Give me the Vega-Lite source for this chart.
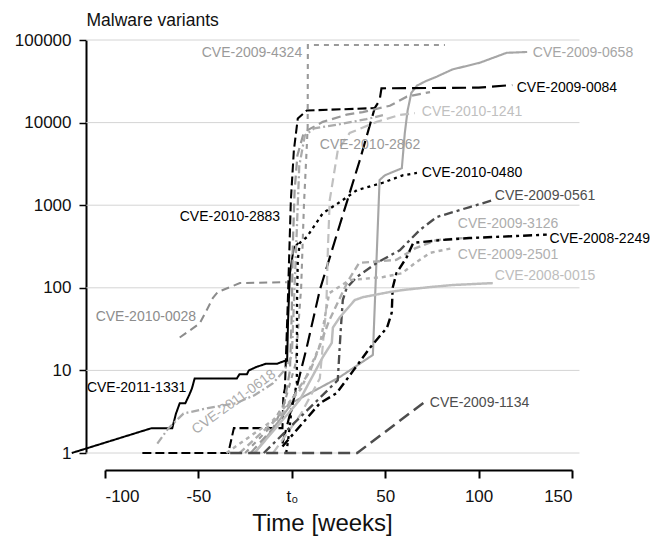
{
"$schema": "https://vega.github.io/schema/vega-lite/v6.json",
"width": 467, "height": 413,
"autosize": {"type": "none"},
"padding": {"left": 105, "top": 40, "right": 83, "bottom": 89},
"config": {"view": {"stroke": null}, "font": "Liberation Sans"},
"datasets": {
"grid": [{"g":1},{"g":10},{"g":100},{"g":1000},{"g":10000},{"g":100000}],
"series": [
{"c":"CVE-2011-1331","w":-117.8,"v":1},{"c":"CVE-2011-1331","w":-75,"v":2},{"c":"CVE-2011-1331","w":-64,"v":2},{"c":"CVE-2011-1331","w":-62,"v":3},{"c":"CVE-2011-1331","w":-60,"v":4},{"c":"CVE-2011-1331","w":-57,"v":4},{"c":"CVE-2011-1331","w":-55,"v":5},{"c":"CVE-2011-1331","w":-53.5,"v":6},{"c":"CVE-2011-1331","w":-52,"v":8},{"c":"CVE-2011-1331","w":-29.4,"v":8},{"c":"CVE-2011-1331","w":-28,"v":9},{"c":"CVE-2011-1331","w":-24,"v":9},{"c":"CVE-2011-1331","w":-23,"v":10},{"c":"CVE-2011-1331","w":-19,"v":11},{"c":"CVE-2011-1331","w":-14,"v":12},{"c":"CVE-2011-1331","w":-8,"v":12},{"c":"CVE-2011-1331","w":-4,"v":13},{"c":"CVE-2011-1331","w":-2.5,"v":13},{"c":"CVE-2011-1331","w":-2,"v":40},{"c":"CVE-2011-1331","w":-1,"v":150},{"c":"CVE-2011-1331","w":1,"v":300},{"c":"CVE-2011-1331","w":3.5,"v":350},
{"c":"CVE-2010-0028","w":-60,"v":25},{"c":"CVE-2010-0028","w":-49.3,"v":37},{"c":"CVE-2010-0028","w":-45.5,"v":54},{"c":"CVE-2010-0028","w":-42.3,"v":75},{"c":"CVE-2010-0028","w":-39.6,"v":89},{"c":"CVE-2010-0028","w":-27.8,"v":114},{"c":"CVE-2010-0028","w":-2.7,"v":117},
{"c":"CVE-2010-2883","w":-80,"v":1},{"c":"CVE-2010-2883","w":-34,"v":1},{"c":"CVE-2010-2883","w":-31,"v":2},{"c":"CVE-2010-2883","w":-12,"v":2},{"c":"CVE-2010-2883","w":-5,"v":2},{"c":"CVE-2010-2883","w":-4.5,"v":5},{"c":"CVE-2010-2883","w":-3.7,"v":6},{"c":"CVE-2010-2883","w":-2.1,"v":71},{"c":"CVE-2010-2883","w":-0.5,"v":1150},{"c":"CVE-2010-2883","w":1.1,"v":4600},{"c":"CVE-2010-2883","w":3.2,"v":11200},{"c":"CVE-2010-2883","w":8,"v":14000},{"c":"CVE-2010-2883","w":45,"v":15000},
{"c":"CVE-2009-4324","w":-25,"v":1},{"c":"CVE-2009-4324","w":-12,"v":2},{"c":"CVE-2009-4324","w":-4,"v":4},{"c":"CVE-2009-4324","w":2,"v":12},{"c":"CVE-2009-4324","w":5,"v":100},{"c":"CVE-2009-4324","w":6.5,"v":1000},{"c":"CVE-2009-4324","w":8,"v":5000},{"c":"CVE-2009-4324","w":8.5,"v":9000},{"c":"CVE-2009-4324","w":8.6,"v":87000},{"c":"CVE-2009-4324","w":82,"v":87000},
{"c":"CVE-2009-0658","w":-19.8,"v":1},{"c":"CVE-2009-0658","w":0.5,"v":4.1},{"c":"CVE-2009-0658","w":25.7,"v":8.3},{"c":"CVE-2009-0658","w":43.4,"v":15.4},{"c":"CVE-2009-0658","w":47,"v":2020},{"c":"CVE-2009-0658","w":49.8,"v":2300},{"c":"CVE-2009-0658","w":58.9,"v":2800},{"c":"CVE-2009-0658","w":60.5,"v":7500},{"c":"CVE-2009-0658","w":62,"v":14000},{"c":"CVE-2009-0658","w":64,"v":23000},{"c":"CVE-2009-0658","w":67,"v":28000},{"c":"CVE-2009-0658","w":72,"v":32000},{"c":"CVE-2009-0658","w":77.6,"v":36000},{"c":"CVE-2009-0658","w":86,"v":44000},{"c":"CVE-2009-0658","w":100.6,"v":53000},{"c":"CVE-2009-0658","w":115,"v":70000},{"c":"CVE-2009-0658","w":126,"v":71600},
{"c":"CVE-2009-0084","w":-5,"v":1.3},{"c":"CVE-2009-0084","w":0.5,"v":4},{"c":"CVE-2009-0084","w":8,"v":19},{"c":"CVE-2009-0084","w":15,"v":94},{"c":"CVE-2009-0084","w":25.7,"v":580},{"c":"CVE-2009-0084","w":36.4,"v":3500},{"c":"CVE-2009-0084","w":44.4,"v":15000},{"c":"CVE-2009-0084","w":47,"v":18600},{"c":"CVE-2009-0084","w":48,"v":26000},{"c":"CVE-2009-0084","w":100,"v":26500},{"c":"CVE-2009-0084","w":118,"v":28500},
{"c":"CVE-2010-1241","w":-10,"v":1},{"c":"CVE-2010-1241","w":5,"v":3},{"c":"CVE-2010-1241","w":15,"v":8},{"c":"CVE-2010-1241","w":18.5,"v":60},{"c":"CVE-2010-1241","w":19.3,"v":286},{"c":"CVE-2010-1241","w":20.3,"v":1150},{"c":"CVE-2010-1241","w":24.6,"v":4600},{"c":"CVE-2010-1241","w":31,"v":7500},{"c":"CVE-2010-1241","w":45.5,"v":10200},{"c":"CVE-2010-1241","w":57.8,"v":12400},{"c":"CVE-2010-1241","w":65.8,"v":13000},
{"c":"CVE-2010-2862","w":-22,"v":1},{"c":"CVE-2010-2862","w":-10,"v":2},{"c":"CVE-2010-2862","w":-4,"v":4},{"c":"CVE-2010-2862","w":-1,"v":10},{"c":"CVE-2010-2862","w":0,"v":50},{"c":"CVE-2010-2862","w":0.5,"v":300},{"c":"CVE-2010-2862","w":1.5,"v":1500},{"c":"CVE-2010-2862","w":3,"v":4000},{"c":"CVE-2010-2862","w":6,"v":7000},{"c":"CVE-2010-2862","w":8,"v":8000},{"c":"CVE-2010-2862","w":16.6,"v":10200},{"c":"CVE-2010-2862","w":29.4,"v":12500},{"c":"CVE-2010-2862","w":38,"v":13400},{"c":"CVE-2010-2862","w":52.5,"v":16000},{"c":"CVE-2010-2862","w":61.6,"v":20600},{"c":"CVE-2010-2862","w":74,"v":23400},
{"c":"CVE-2011-0618","w":-72,"v":1.3},{"c":"CVE-2011-0618","w":-66,"v":2},{"c":"CVE-2011-0618","w":-58,"v":3},{"c":"CVE-2011-0618","w":-45,"v":3.5},{"c":"CVE-2011-0618","w":-30,"v":4},{"c":"CVE-2011-0618","w":-20,"v":5},{"c":"CVE-2011-0618","w":-10,"v":7},{"c":"CVE-2011-0618","w":-4,"v":10},{"c":"CVE-2011-0618","w":0,"v":15},{"c":"CVE-2011-0618","w":2,"v":200},{"c":"CVE-2011-0618","w":4,"v":3000},{"c":"CVE-2011-0618","w":7,"v":7000},{"c":"CVE-2011-0618","w":12,"v":8500},{"c":"CVE-2011-0618","w":25,"v":9500},{"c":"CVE-2011-0618","w":40,"v":11000},{"c":"CVE-2011-0618","w":50,"v":12500},
{"c":"CVE-2010-0480","w":-3,"v":1},{"c":"CVE-2010-0480","w":-2,"v":1.4},{"c":"CVE-2010-0480","w":0,"v":3.6},{"c":"CVE-2010-0480","w":2.7,"v":7},{"c":"CVE-2010-0480","w":2.8,"v":71},{"c":"CVE-2010-0480","w":3.2,"v":217},{"c":"CVE-2010-0480","w":4.3,"v":350},{"c":"CVE-2010-0480","w":8,"v":410},{"c":"CVE-2010-0480","w":16.6,"v":800},{"c":"CVE-2010-0480","w":25.7,"v":1090},{"c":"CVE-2010-0480","w":34.8,"v":1520},{"c":"CVE-2010-0480","w":48.7,"v":1870},{"c":"CVE-2010-0480","w":59.4,"v":2300},{"c":"CVE-2010-0480","w":67,"v":2460},
{"c":"CVE-2009-0561","w":-15,"v":1},{"c":"CVE-2009-0561","w":24.6,"v":7.6},{"c":"CVE-2009-0561","w":26.2,"v":31},{"c":"CVE-2009-0561","w":27.3,"v":71},{"c":"CVE-2009-0561","w":29.4,"v":100},{"c":"CVE-2009-0561","w":34.8,"v":135},{"c":"CVE-2009-0561","w":45.5,"v":200},{"c":"CVE-2009-0561","w":57.8,"v":285},{"c":"CVE-2009-0561","w":68.5,"v":500},{"c":"CVE-2009-0561","w":77.6,"v":720},{"c":"CVE-2009-0561","w":95.3,"v":950},{"c":"CVE-2009-0561","w":107.6,"v":1150},
{"c":"CVE-2009-3126","w":-28,"v":1},{"c":"CVE-2009-3126","w":-5,"v":3},{"c":"CVE-2009-3126","w":10,"v":10},{"c":"CVE-2009-3126","w":20,"v":40},{"c":"CVE-2009-3126","w":30,"v":120},{"c":"CVE-2009-3126","w":36,"v":200},{"c":"CVE-2009-3126","w":56,"v":218},{"c":"CVE-2009-3126","w":66,"v":300},{"c":"CVE-2009-3126","w":77.6,"v":380},{"c":"CVE-2009-3126","w":91.5,"v":400},
{"c":"CVE-2008-2249","w":-5,"v":1.2},{"c":"CVE-2008-2249","w":15,"v":4},{"c":"CVE-2008-2249","w":24,"v":5.3},{"c":"CVE-2008-2249","w":33,"v":10},{"c":"CVE-2008-2249","w":42,"v":19},{"c":"CVE-2008-2249","w":51,"v":33},{"c":"CVE-2008-2249","w":53.5,"v":50},{"c":"CVE-2008-2249","w":54,"v":100},{"c":"CVE-2008-2249","w":56,"v":150},{"c":"CVE-2008-2249","w":61.6,"v":236},{"c":"CVE-2008-2249","w":65,"v":350},{"c":"CVE-2008-2249","w":81,"v":380},{"c":"CVE-2008-2249","w":95,"v":400},{"c":"CVE-2008-2249","w":136.5,"v":440},
{"c":"CVE-2009-2501","w":-35,"v":1},{"c":"CVE-2009-2501","w":-10,"v":2.5},{"c":"CVE-2009-2501","w":5,"v":6},{"c":"CVE-2009-2501","w":15,"v":20},{"c":"CVE-2009-2501","w":20,"v":86},{"c":"CVE-2009-2501","w":31,"v":124},{"c":"CVE-2009-2501","w":49,"v":135},{"c":"CVE-2009-2501","w":59,"v":150},{"c":"CVE-2009-2501","w":66,"v":200},{"c":"CVE-2009-2501","w":74,"v":265},{"c":"CVE-2009-2501","w":86,"v":302},
{"c":"CVE-2008-0015","w":-20,"v":1},{"c":"CVE-2008-0015","w":4.3,"v":4.4},{"c":"CVE-2008-0015","w":16.6,"v":14.5},{"c":"CVE-2008-0015","w":21.4,"v":21.5},{"c":"CVE-2008-0015","w":22,"v":33},{"c":"CVE-2008-0015","w":25.7,"v":44},{"c":"CVE-2008-0015","w":33.7,"v":71},{"c":"CVE-2008-0015","w":38,"v":77},{"c":"CVE-2008-0015","w":52.5,"v":89},{"c":"CVE-2008-0015","w":59.4,"v":94},{"c":"CVE-2008-0015","w":74,"v":102},{"c":"CVE-2008-0015","w":86,"v":108},{"c":"CVE-2008-0015","w":107.6,"v":114},
{"c":"CVE-2009-1134","w":-33,"v":1},{"c":"CVE-2009-1134","w":35,"v":1},{"c":"CVE-2009-1134","w":72,"v":4.3}
],
"labels": [
{"c":"CVE-2009-4324","w":-48.2,"v":69600},{"c":"CVE-2009-0658","w":129,"v":69600},{"c":"CVE-2009-0084","w":120.4,"v":26200},{"c":"CVE-2010-1241","w":69.6,"v":13400},{"c":"CVE-2010-2862","w":15,"v":5350},{"c":"CVE-2010-0480","w":69.6,"v":2450},{"c":"CVE-2010-2883","w":-60,"v":720},{"c":"CVE-2009-0561","w":108.7,"v":1290},{"c":"CVE-2009-3126","w":88.9,"v":592},{"c":"CVE-2008-2249","w":138,"v":390},{"c":"CVE-2009-2501","w":88.9,"v":250},{"c":"CVE-2008-0015","w":108.7,"v":139},{"c":"CVE-2010-0028","w":-105,"v":44.3},{"c":"CVE-2011-1331","w":-109.7,"v":6.12},{"c":"CVE-2009-1134","w":73.9,"v":4.03},{"c":"CVE-2011-0618","w":-31,"v":4.14}
]
},
"layer": [
{"data": {"name": "grid"}, "mark": {"type": "rule", "color": "#d4d4d4", "strokeWidth": 1},
 "encoding": {"y": {"field": "g", "type": "quantitative", "scale": {"type": "log", "domain": [1, 100000], "nice": false}},
  "x": {"datum": -110, "type": "quantitative"}, "x2": {"datum": 154}}},
{"data": {"name": "series"}, "mark": {"type": "line", "clip": false},
 "encoding": {
  "x": {"field": "w", "type": "quantitative", "scale": {"domain": [-100, 150], "nice": false, "zero": false},
   "axis": {"values": [-100, -50, 0, 50, 100, 150], "labelExpr": "datum.value == 0 ? 't₀' : '' + datum.value", "offset": 17, "grid": false, "domainColor": "#000", "domainWidth": 2, "tickColor": "#000", "tickWidth": 2, "tickSize": 8, "labelFontSize": 17, "labelColor": "#111", "labelPadding": 10, "title": "Time [weeks]", "titleFontSize": 24, "titleFontWeight": "normal", "titleColor": "#111", "titlePadding": 7, "titleX": 217}},
  "y": {"field": "v", "type": "quantitative", "scale": {"type": "log", "domain": [1, 100000], "nice": false},
   "axis": {"values": [1, 10, 100, 1000, 10000, 100000], "format": "d", "offset": 19, "grid": false, "domainColor": "#000", "domainWidth": 2, "tickColor": "#000", "tickWidth": 1.5, "tickSize": 7, "labelFontSize": 17, "labelColor": "#111", "labelPadding": 8, "title": "Malware variants", "titleAngle": 0, "titleAlign": "left", "titleBaseline": "middle", "titleX": 0, "titleY": -20, "titleFontSize": 17.5, "titleFontWeight": "normal", "titleColor": "#111"}},
  "detail": {"field": "c"},
  "color": {"field": "c", "type": "nominal", "legend": null,
   "scale": {"domain": ["CVE-2011-1331","CVE-2010-0028","CVE-2010-2883","CVE-2009-4324","CVE-2009-0658","CVE-2009-0084","CVE-2010-1241","CVE-2010-2862","CVE-2011-0618","CVE-2010-0480","CVE-2009-0561","CVE-2009-3126","CVE-2008-2249","CVE-2009-2501","CVE-2008-0015","CVE-2009-1134"],
    "range": ["#000000","#8c8c8c","#000000","#9a9a9a","#a6a6a6","#000000","#c0c0c0","#9a9a9a","#ababab","#000000","#4d4d4d","#adadad","#000000","#b0b0b0","#bdbdbd","#4d4d4d"]}},
  "strokeDash": {"field": "c", "type": "nominal", "legend": null,
   "scale": {"domain": ["CVE-2011-1331","CVE-2010-0028","CVE-2010-2883","CVE-2009-4324","CVE-2009-0658","CVE-2009-0084","CVE-2010-1241","CVE-2010-2862","CVE-2011-0618","CVE-2010-0480","CVE-2009-0561","CVE-2009-3126","CVE-2008-2249","CVE-2009-2501","CVE-2008-0015","CVE-2009-1134"],
    "range": [[1,0],[8,5],[9,4],[5,5],[1,0],[14,6],[9,5],[9,5],[8,3,2,3],[3,4],[9,4,3,4],[7,4],[9,4,3,4],[4,4],[1,0],[12,6]]}},
  "strokeWidth": {"field": "c", "type": "nominal", "legend": null,
   "scale": {"domain": ["CVE-2011-1331","CVE-2010-0028","CVE-2010-2883","CVE-2009-4324","CVE-2009-0658","CVE-2009-0084","CVE-2010-1241","CVE-2010-2862","CVE-2011-0618","CVE-2010-0480","CVE-2009-0561","CVE-2009-3126","CVE-2008-2249","CVE-2009-2501","CVE-2008-0015","CVE-2009-1134"],
    "range": [2,2.5,2.5,2.5,2.5,2.5,2.5,2.5,2.5,3.5,2.5,2.5,2.5,2.5,2,2.5]}}
 }},
{"data": {"name": "labels"}, "transform": [{"filter": "datum.c != 'CVE-2011-0618'"}],
 "mark": {"type": "text", "align": "left", "baseline": "middle", "fontSize": 14, "font": "Liberation Sans", "clip": false},
 "encoding": {"x": {"field": "w", "type": "quantitative"}, "y": {"field": "v", "type": "quantitative"}, "text": {"field": "c"}, "color": {"field": "c", "type": "nominal", "legend": null}}},
{"data": {"name": "labels"}, "transform": [{"filter": "datum.c == 'CVE-2011-0618'"}],
 "mark": {"type": "text", "align": "center", "baseline": "middle", "fontSize": 14, "font": "Liberation Sans", "angle": -36},
 "encoding": {"x": {"field": "w", "type": "quantitative"}, "y": {"field": "v", "type": "quantitative"}, "text": {"field": "c"}, "color": {"field": "c", "type": "nominal", "legend": null}}}
]
}
